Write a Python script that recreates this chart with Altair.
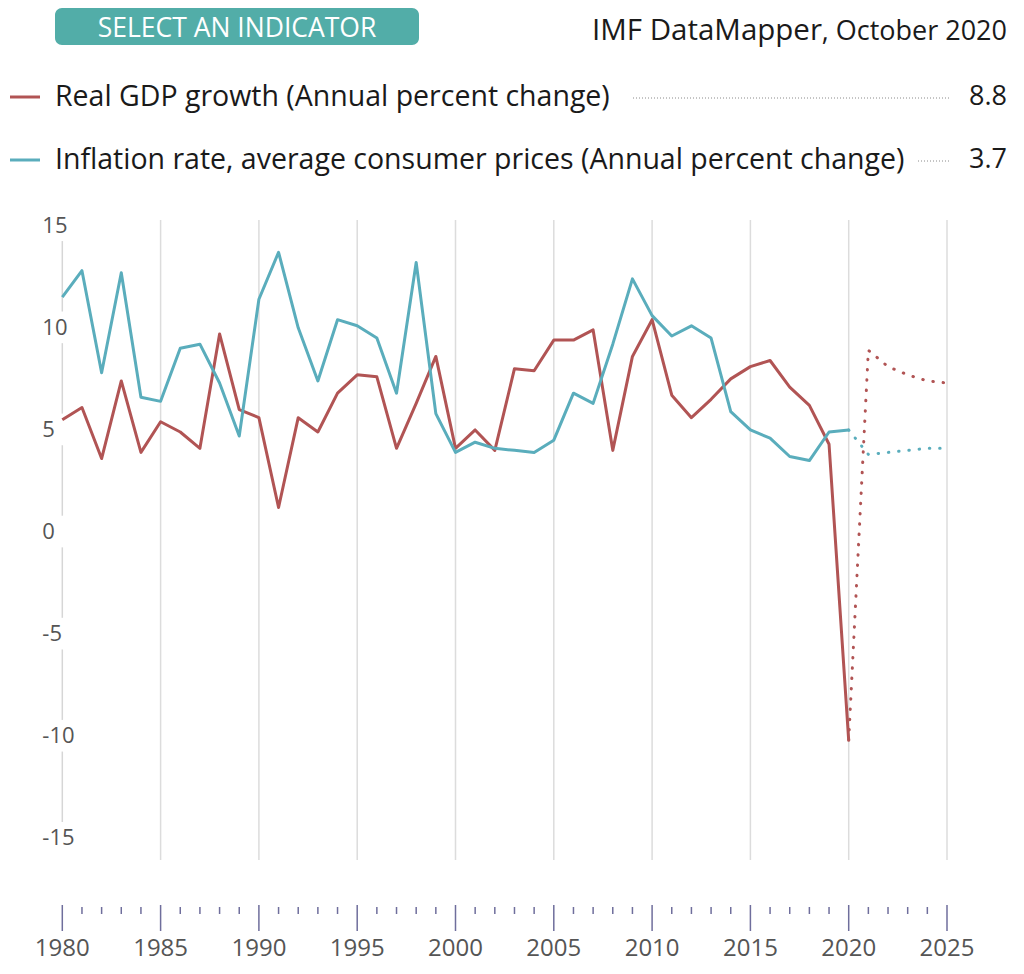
import altair as alt
import pandas as pd

# ---------------- data ----------------
years = list(range(1980, 2026))
gdp = [5.4, 6.0, 3.5, 7.3, 3.8, 5.3, 4.8, 4.0, 9.6, 5.9,
       5.5, 1.1, 5.5, 4.8, 6.7, 7.6, 7.5, 4.0, 6.2, 8.5,
       4.0, 4.9, 3.9, 7.9, 7.8, 9.3, 9.3, 9.8, 3.9, 8.5,
       10.3, 6.6, 5.5, 6.4, 7.4, 8.0, 8.3, 7.0, 6.1, 4.2,
       -10.3, 8.8, 8.0, 7.6, 7.3, 7.2]
inflation = [11.4, 12.7, 7.7, 12.6, 6.5, 6.3, 8.9, 9.1, 7.2, 4.6,
             11.3, 13.6, 9.9, 7.3, 10.3, 10.0, 9.4, 6.7, 13.1, 5.7,
             3.8, 4.3, 4.0, 3.9, 3.8, 4.4, 6.7, 6.2, 9.1, 12.3,
             10.5, 9.5, 10.0, 9.4, 5.8, 4.9, 4.5, 3.6, 3.4, 4.8,
             4.9, 3.7, 3.8, 3.9, 4.0, 4.0]
series_keys = ["gdp", "inf"]
series_names = ["Real GDP growth (Annual percent change)",
                "Inflation rate, average consumer prices (Annual percent change)"]
series_colors = ["#b15454", "#5aadbc"]
legend_values = ["8.8", "3.7"]
first_year = 1980
last_actual = 2020
grid_years = list(range(1985, 2026, 5))
y_ticks = [15, 10, 5, 0, -5, -10, -15]
y_tick_labels = ["15", "10", "5", "0", "-5", "-10", "-15"]
x_label_years = list(range(1980, 2026, 5))
title_main = "IMF DataMapper"
title_sub = ", October 2020"
button_text = "SELECT AN INDICATOR"

FONT = "Open Sans"

# ---------------- tables ----------------
rows = []
for key, vals in zip(series_keys, [gdp, inflation]):
    for yr, v in zip(years, vals):
        if yr <= last_actual:
            rows.append(dict(year=yr, value=v, series=key, part="actual"))
        if yr >= last_actual:
            rows.append(dict(year=yr, value=v, series=key, part="forecast"))
lines_df = pd.DataFrame(rows)
actual_df = lines_df[lines_df["part"] == "actual"]
forecast_df = lines_df[lines_df["part"] == "forecast"]

grid_df = pd.DataFrame({"year": grid_years})
seg_df = pd.DataFrame({"year": [first_year] * (len(y_ticks) - 1),
                       "top": [t - 0.85 for t in y_ticks[:-1]],
                       "bottom": [t + 0.7 for t in y_ticks[1:]]})
ylab_df = pd.DataFrame({"year": [first_year] * len(y_ticks),
                        "tick": y_ticks, "label": y_tick_labels})
major_df = pd.DataFrame({"year": [y for y in years if y % 5 == 0]})
minor_df = pd.DataFrame({"year": [y for y in years if y % 5 != 0]})
xlab_df = pd.DataFrame({"year": x_label_years, "label": [str(y) for y in x_label_years]})
one = pd.DataFrame({"a": [0]})

xs = alt.Scale(domain=[1980, 2025], range=[54.3, 939])
ys = alt.Scale(domain=[-15, 15], range=[828.3, 215.7])
cs = alt.Scale(domain=series_keys, range=series_colors)

X = alt.X("year:Q", scale=xs, axis=None)

grid = alt.Chart(grid_df).mark_rule(color="#dcdcdc", strokeWidth=1.5).encode(
    x=X, y=alt.value(212), y2=alt.value(852))

yline = alt.Chart(seg_df).mark_rule(color="#d6d6d6", strokeWidth=1.5).encode(
    x=X, y=alt.Y("top:Q", scale=ys, axis=None), y2="bottom:Q")

ylabels = alt.Chart(ylab_df).mark_text(
    align="left", baseline="middle", dx=-20, dy=2, fontSize=22,
    color="#555555", font=FONT).encode(
    x=X, y=alt.Y("tick:Q", scale=ys, axis=None), text="label:N")

actual = alt.Chart(actual_df).mark_line(strokeWidth=3, strokeJoin="round").encode(
    x=X, y=alt.Y("value:Q", scale=ys, axis=None),
    color=alt.Color("series:N", scale=cs, legend=None))

forecast = alt.Chart(forecast_df).mark_line(
    strokeWidth=3, strokeDash=[0.5, 9.8], strokeCap="round").encode(
    x=X, y=alt.Y("value:Q", scale=ys, axis=None),
    color=alt.Color("series:N", scale=cs, legend=None))

xticks_major = alt.Chart(major_df).mark_rule(color="#6f6e9c", strokeWidth=1.5).encode(
    x=X, y=alt.value(897), y2=alt.value(923))
xticks_minor = alt.Chart(minor_df).mark_rule(color="#6f6e9c", strokeWidth=1.5).encode(
    x=X, y=alt.value(899), y2=alt.value(906))
xlabels = alt.Chart(xlab_df).mark_text(
    align="center", baseline="middle", fontSize=24, color="#555555", font=FONT).encode(
    x=X, y=alt.value(941), text="label:N")

# header
button = alt.Chart(one).mark_rect(color="#52ada8", cornerRadius=7).encode(
    x=alt.value(47), x2=alt.value(411), y=alt.value(0), y2=alt.value(37))
button_lbl = alt.Chart(one).mark_text(
    text=button_text, align="center", baseline="alphabetic", fontSize=26.5,
    color="white", font=FONT).encode(x=alt.value(229), y=alt.value(28.6))
title1 = alt.Chart(one).mark_text(
    text=title_main, align="right", baseline="alphabetic", fontSize=29.5,
    color="#1a1a1a", font=FONT).encode(x=alt.value(814), y=alt.value(31.8))
title2 = alt.Chart(one).mark_text(
    text=title_sub, align="right", baseline="alphabetic", fontSize=27,
    color="#1a1a1a", font=FONT).encode(x=alt.value(999), y=alt.value(31.8))

legend_layers = []
row_y = [89, 152]
leader_start = [625, 910]
for i in range(2):
    legend_layers.append(alt.Chart(one).mark_rule(color=series_colors[i], strokeWidth=3).encode(
        x=alt.value(2), x2=alt.value(32), y=alt.value(row_y[i])))
    legend_layers.append(alt.Chart(one).mark_text(
        text=series_names[i], align="left", baseline="middle", fontSize=28.5,
        color="#1a1a1a", font=FONT).encode(x=alt.value(47), y=alt.value(row_y[i])))
    legend_layers.append(alt.Chart(one).mark_rule(color="#8a8a8a", strokeWidth=1, strokeDash=[1, 2]).encode(
        x=alt.value(leader_start[i]), x2=alt.value(942), y=alt.value(row_y[i] + 1)))
    legend_layers.append(alt.Chart(one).mark_text(
        text=legend_values[i], align="right", baseline="middle", fontSize=27,
        color="#1a1a1a", font=FONT).encode(x=alt.value(999), y=alt.value(row_y[i])))

chart = alt.layer(
    grid, yline, ylabels, actual, forecast, xticks_major, xticks_minor, xlabels,
    button, button_lbl, title1, title2, *legend_layers
).properties(
    width=1008, height=955,
    padding={"left": 0, "top": 0, "right": 0, "bottom": 0},
    autosize=alt.AutoSizeParams(type="none"),
    background="white"
).configure_view(stroke=None)

chart.save("out.html", embed_options={"renderer": "svg", "actions": False})
